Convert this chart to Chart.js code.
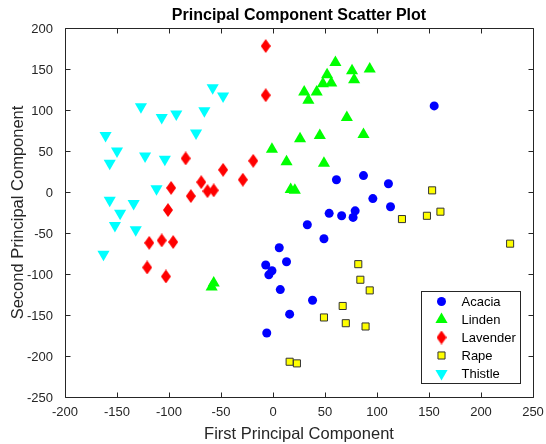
<!DOCTYPE html>
<html>
<head>
<meta charset="utf-8">
<script src="https://cdn.jsdelivr.net/npm/chart.js@4/dist/chart.umd.min.js"></script>
<style>
  html, body { margin: 0; padding: 0; background: #fff; }
  #wrap { width: 546px; height: 444px; }
</style>
</head>
<body>
<div id="wrap"><canvas id="pca-chart" width="546" height="444"></canvas></div>
<script>
// 各類別的主成分座標
const acaciaX = [155, 61, 87, 111, 96, 113, 54, 66, 79, 77, 33, 49, 6, 13, -7, -1, -4, 7, 38, 16, -6];
const acaciaY = [105, 15, 20, 10, -8, -18, -26, -29, -23, -31, -40, -57, -68, -85, -89, -96, -101, -119, -132, -149, -172];

const lindenX = [60, 76, 93, 52, 78, 48, 56, 30, 42, 34, 71, 26, 45, 87, 13, 49, -1, 17, 21, -59, -57];
const lindenY = [158, 148, 150, 143, 137, 132, 133, 122, 122, 112, 91, 65, 69, 70, 37, 35, 52, 3, 2, -116, -111];

const lavenderX = [-7, -7, -84, -19, -48, -29, -69, -98, -63, -57, -79, -101, -119, -107, -96, -121, -103];
const lavenderY = [178, 118, 41, 38, 27, 15, 12, 5, 1, 2, -5, -22, -62, -59, -61, -92, -103];

const rapeX = [153, 161, 148, 124, 228, 82, 84, 93, 67, 49, 70, 89, 16, 23];
const rapeY = [2, -24, -29, -33, -63, -88, -107, -120, -139, -153, -160, -164, -207, -209];

const thistleX = [-58, -48, -127, -107, -93, -66, -161, -74, -150, -157, -123, -104, -112, -157, -134, -147, -152, -132, -163];
const thistleY = [127, 117, 104, 91, 95, 99, 69, 72, 50, 35, 44, 40, 4, -10, -14, -26, -41, -46, -76];

const xTicks = [-200, -150, -100, -50, 0, 50, 100, 150, 200, 250];
const yTicks = [-250, -200, -150, -100, -50, 0, 50, 100, 150, 200];

const toPoints = (xs, ys) => xs.map((x, i) => ({ x, y: ys[i] }));

// 菱形標記 (Chart.js 的 rectRot 是正方形)
const makeDiamond = (w, h, color) => {
  const c = document.createElement("canvas");
  c.width = w;
  c.height = h;
  const g = c.getContext("2d");
  g.fillStyle = color;
  g.beginPath();
  g.moveTo(w / 2, 0);
  g.lineTo(w, h / 2);
  g.lineTo(w / 2, h);
  g.lineTo(0, h / 2);
  g.closePath();
  g.fill();
  return c;
};
const diamond = makeDiamond(10, 14, "#ff0000");

const axisColor = "#262626";
Chart.defaults.font.family = "'Liberation Sans', Arial, sans-serif";

// 座標框 + 朝內刻度 + 圖例
const axesBox = {
  id: "axesBox",
  afterDraw(chart) {
    const { ctx, chartArea, scales } = chart;
    const left = Math.round(chartArea.left) + 0.5;
    const right = Math.round(chartArea.right) + 0.5;
    const top = Math.round(chartArea.top) + 0.5;
    const bottom = Math.round(chartArea.bottom) + 0.5;
    const tl = 5;
    ctx.save();
    ctx.strokeStyle = axisColor;
    ctx.lineWidth = 1;
    ctx.beginPath();
    ctx.rect(left, top, right - left, bottom - top);
    xTicks.forEach((v) => {
      const px = Math.round(scales.x.getPixelForValue(v)) + 0.5;
      ctx.moveTo(px, bottom);
      ctx.lineTo(px, bottom - tl);
      ctx.moveTo(px, top);
      ctx.lineTo(px, top + tl);
    });
    yTicks.forEach((v) => {
      const py = Math.round(scales.y.getPixelForValue(v)) + 0.5;
      ctx.moveTo(left, py);
      ctx.lineTo(left + tl, py);
      ctx.moveTo(right, py);
      ctx.lineTo(right - tl, py);
    });
    ctx.stroke();

    // 圖例
    const boxW = 99;
    const boxH = 92;
    const bx = Math.round(chartArea.right - 13 - boxW) + 0.5;
    const by = Math.round(chartArea.bottom - 14 - boxH) + 0.5;
    ctx.fillStyle = "#ffffff";
    ctx.fillRect(bx, by, boxW, boxH);
    ctx.strokeRect(bx, by, boxW, boxH);
    ctx.font = "13px 'Liberation Sans', Arial, sans-serif";
    ctx.textBaseline = "middle";
    ctx.textAlign = "left";
    chart.data.datasets.forEach((ds, i) => {
      const cy = by + 10 + i * 18;
      const cx = bx + 20;
      ctx.fillStyle = ds.backgroundColor;
      ctx.strokeStyle = ds.borderColor;
      ctx.lineWidth = ds.borderWidth;
      Chart.helpers.drawPoint(ctx, {
        pointStyle: ds.pointStyle,
        radius: ds.pointRadius,
        rotation: ds.rotation || 0,
        borderWidth: ds.borderWidth,
      }, cx, cy);
      ctx.fillStyle = "#000000";
      ctx.fillText(ds.label, bx + 40, cy + 0.5);
    });
    ctx.restore();
  },
};

new Chart(document.getElementById("pca-chart"), {
  type: "scatter",
  data: {
    datasets: [
      {
        label: "Acacia",
        data: toPoints(acaciaX, acaciaY),
        pointStyle: "circle",
        pointRadius: 4.5,
        backgroundColor: "#0000ff",
        borderColor: "#0000ff",
        borderWidth: 0,
      },
      {
        label: "Linden",
        data: toPoints(lindenX, lindenY),
        pointStyle: "triangle",
        pointRadius: 7,
        backgroundColor: "#00ff00",
        borderColor: "#00ff00",
        borderWidth: 0,
      },
      {
        label: "Lavender",
        data: toPoints(lavenderX, lavenderY),
        pointStyle: diamond,
        pointRadius: 7,
        backgroundColor: "#ff0000",
        borderColor: "#ff0000",
        borderWidth: 0,
      },
      {
        label: "Rape",
        data: toPoints(rapeX, rapeY),
        pointStyle: "rect",
        pointRadius: 5,
        backgroundColor: "#ffff00",
        borderColor: "#333333",
        borderWidth: 1,
      },
      {
        label: "Thistle",
        data: toPoints(thistleX, thistleY),
        pointStyle: "triangle",
        rotation: 180,
        pointRadius: 7,
        backgroundColor: "#00ffff",
        borderColor: "#00ffff",
        borderWidth: 0,
      },
    ],
  },
  options: {
    responsive: false,
    animation: false,
    devicePixelRatio: 1,
    events: [],
    layout: { padding: { top: 0, right: 13, left: 0, bottom: 0 } },
    plugins: {
      legend: { display: false },
      tooltip: { enabled: false },
      title: {
        display: true,
        fullSize: false,
        text: "Principal Component Scatter Plot",
        color: "#000000",
        font: { size: 16, weight: "bold" },
        padding: { top: 5.5, bottom: 3.3 },
      },
    },
    scales: {
      x: {
        type: "linear",
        min: -200,
        max: 250,
        afterBuildTicks: (axis) => {
          axis.ticks = xTicks.map((v) => ({ value: v }));
        },
        afterFit: (axis) => {
          axis.height = 47;
          axis.paddingLeft = 0;
          axis.paddingRight = 0;
        },
        grid: { display: false, drawTicks: false },
        border: { display: false },
        ticks: { color: axisColor, font: { size: 13 }, padding: 8, maxRotation: 0 },
        title: {
          display: true,
          text: "First Principal Component",
          color: axisColor,
          font: { size: 16.5 },
          padding: { top: 0, bottom: 0 },
        },
      },
      y: {
        type: "linear",
        min: -250,
        max: 200,
        afterBuildTicks: (axis) => {
          axis.ticks = yTicks.map((v) => ({ value: v }));
        },
        afterFit: (axis) => {
          axis.width = 65;
          axis.paddingTop = 0;
          axis.paddingBottom = 0;
        },
        grid: { display: false, drawTicks: false },
        border: { display: false },
        ticks: { color: axisColor, font: { size: 13 }, padding: 12, labelOffset: 1.5 },
        title: {
          display: true,
          text: "Second Principal Component",
          color: axisColor,
          font: { size: 16.5 },
          padding: { top: 9, bottom: 0 },
        },
      },
    },
  },
  plugins: [axesBox],
});
</script>
</body>
</html>
